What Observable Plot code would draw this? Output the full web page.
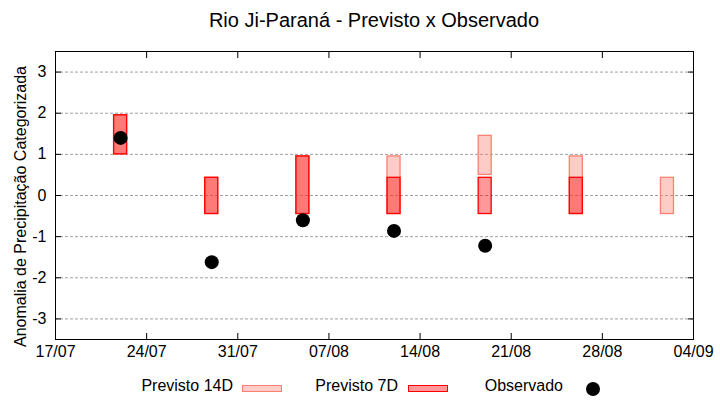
<!DOCTYPE html>
<html>
<head>
<meta charset="utf-8">
<script src="https://cdn.jsdelivr.net/npm/d3@7"></script>
<script src="https://cdn.jsdelivr.net/npm/@observablehq/plot@0.6"></script>
<style>
  html, body { margin: 0; padding: 0; background: white; }
  #wrap { position: relative; width: 720px; height: 400px; font-family: "Liberation Sans", Arial, sans-serif; color: black; }
  #title { position: absolute; left: 55px; width: 638px; top: 0; height: 40px; line-height: 40px; text-align: center; font-size: 20px; }
  #chart { position: absolute; left: 0; top: 40px; }
  .lt { position: absolute; top: 376px; line-height: 20px; font-size: 16px; white-space: nowrap; }
  .lb { position: absolute; top: 385px; width: 38px; height: 5px; }
</style>
</head>
<body>
<div id="wrap">
  <div id="title">Rio Ji-Paraná - Previsto x Observado</div>
  <div id="chart"></div>
  <span class="lt" style="right:487px">Previsto 14D</span>
  <div class="lb" style="left:242px; background: rgba(250,128,114,0.4); border:1px solid #fa8072;"></div>
  <span class="lt" style="right:322px">Previsto 7D</span>
  <div class="lb" style="left:408px; background: rgba(255,0,0,0.4); border:1px solid #ff0000;"></div>
  <span class="lt" style="right:157px">Observado</span>
  <div style="position:absolute; left:586px; top:382px; width:14px; height:14px; border-radius:50%; background:black;"></div>
</div>
<script>
// Data
const dates = ["2023-07-22", "2023-07-29", "2023-08-05", "2023-08-12", "2023-08-19", "2023-08-26", "2023-09-02"];
const prev14Lo = [1.0, -0.45, -0.45, -0.45, 0.5, -0.45, -0.45];
const prev14Hi = [1.95, 0.43, 0.95, 0.95, 1.45, 0.95, 0.43];
const prev7Lo = [1.0, -0.45, -0.45, -0.45, -0.45, -0.45, null];
const prev7Hi = [1.95, 0.43, 0.95, 0.43, 0.43, 0.43, null];
const observado = [1.4, -1.62, -0.6, -0.86, -1.22, null, null];
const xTickLabels = ["2023-07-17", "2023-07-24", "2023-07-31", "2023-08-07", "2023-08-14", "2023-08-21", "2023-08-28", "2023-09-04"];
const yTicks = [-3, -2, -1, 0, 1, 2, 3];
const yLabel = "Anomalia de Precipitação Categorizada";

const parse = d3.utcParse("%Y-%m-%d");
const half = 12 * 3600 * 1000;
const xTicks = xTickLabels.map(parse);
const rows = dates.map((d, i) => ({
  date: parse(d),
  lo14: prev14Lo[i], hi14: prev14Hi[i],
  lo7: prev7Lo[i], hi7: prev7Hi[i],
  obs: observado[i]
}));
const rows14 = rows.filter(r => r.lo14 != null);
const rows7 = rows.filter(r => r.lo7 != null);
const rowsObs = rows.filter(r => r.obs != null);

const chart = Plot.plot({
  width: 720,
  height: 330,
  marginTop: 11,
  marginBottom: 31,
  marginLeft: 55,
  marginRight: 27,
  style: { fontFamily: "Liberation Sans, Arial, sans-serif", fontSize: "16px", color: "black", background: "white" },
  x: { type: "utc", domain: [xTicks[0], xTicks[xTicks.length - 1]] },
  y: { domain: [-3.5, 3.5] },
  marks: [
    Plot.gridY(yTicks, { stroke: "#a0a0a0", strokeOpacity: 1, strokeDasharray: "3,2" }),
    Plot.rect(rows14, {
      x1: d => new Date(+d.date - half), x2: d => new Date(+d.date + half),
      y1: "lo14", y2: "hi14",
      fill: "#fa8072", fillOpacity: 0.4, stroke: "#fa8072", strokeWidth: 1.3
    }),
    Plot.rect(rows7, {
      x1: d => new Date(+d.date - half), x2: d => new Date(+d.date + half),
      y1: "lo7", y2: "hi7",
      fill: "#ff0000", fillOpacity: 0.4, stroke: "#ff0000", strokeWidth: 1.3
    }),
    Plot.dot(rowsObs, { x: "date", y: "obs", r: 7, fill: "black", stroke: null }),
    Plot.axisY(yTicks, { anchor: "left", tickSize: 0, tickPadding: 9, tickFormat: d => String(d), label: null }),
    Plot.axisY(yTicks, { anchor: "left", tickSize: -6, tickFormat: () => "", label: null }),
    Plot.axisY(yTicks, { anchor: "right", tickSize: -6, tickFormat: () => "", label: null }),
    Plot.axisX(xTicks, { anchor: "bottom", tickSize: 0, tickPadding: 6, tickFormat: d3.utcFormat("%d/%m"), label: null }),
    Plot.axisX(xTicks, { anchor: "bottom", tickSize: -6, tickFormat: () => "", label: null }),
    Plot.axisX(xTicks, { anchor: "top", tickSize: -6, tickFormat: () => "", label: null }),
    Plot.frame({ stroke: "black" }),
    Plot.text([yLabel], { text: d => d, frameAnchor: "left", textAnchor: "middle", lineAnchor: "middle", rotate: -90, dx: -35, dy: 11, fontSize: 16, fill: "black" })
  ]
});
document.getElementById("chart").appendChild(chart);
</script>
</body>
</html>
